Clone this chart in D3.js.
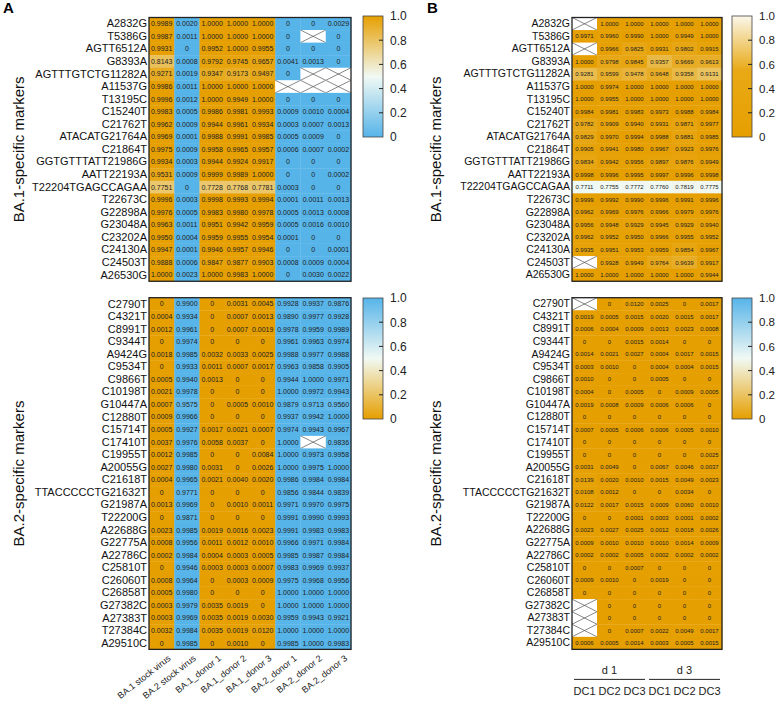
<!DOCTYPE html>
<html><head><meta charset="utf-8">
<script src="https://cdn.jsdelivr.net/npm/d3@7"></script>
<style>body{margin:0;background:#fff}svg{display:block}text{font-family:Arial,"Liberation Sans",sans-serif}</style>
</head><body><svg id="chart" width="777" height="703"></svg>
<script>
const ba1Markers = ["A2832G","T5386G","AGTT6512A","G8393A","AGTTTGTCTG11282A","A11537G","T13195C","C15240T","C21762T","ATACATG21764A","C21864T","GGTGTTTATT21986G","AATT22193A","T22204TGAGCCAGAA","T22673C","G22898A","G23048A","C23202A","C24130A","C24503T","A26530G"];
const ba2Markers = ["C2790T","C4321T","C8991T","C9344T","A9424G","C9534T","C9866T","C10198T","G10447A","C12880T","C15714T","C17410T","C19955T","A20055G","C21618T","TTACCCCCTG21632T","G21987A","T22200G","A22688G","G22775A","A22786C","C25810T","C26060T","C26858T","G27382C","A27383T","T27384C","A29510C"];
const colsA = ["BA.1 stock virus","BA.2 stock virus","BA.1_donor 1","BA.1_donor 2","BA.1_donor 3","BA.2_donor 1","BA.2_donor 2","BA.2_donor 3"];
const colsB = ["DC1","DC2","DC3","DC1","DC2","DC3"];
const daysB = ["d 1","d 3"];
const cbTicks = [0,0.2,0.4,0.6,0.8,1.0];

const aTop = [
[0.9989,0.0020,1.0000,1.0000,1.0000,0,0,0.0029],
[0.9987,0.0011,1.0000,1.0000,1.0000,0,null,0],
[0.9931,0,0.9952,1.0000,0.9955,0,0,0],
[0.8143,0.0008,0.9792,0.9745,0.9657,0.0041,0.0013,0],
[0.9271,0.0019,0.9347,0.9173,0.9497,0,null,null],
[0.9986,0.0011,1.0000,1.0000,1.0000,null,null,null],
[0.9996,0.0012,1.0000,0.9949,1.0000,0,0,0],
[0.9983,0.0005,0.9986,0.9981,0.9993,0.0009,0.0010,0.0004],
[0.9962,0.0009,0.9944,0.9961,0.9934,0.0003,0.0007,0.0013],
[0.9969,0.0001,0.9988,0.9991,0.9985,0.0005,0.0009,0],
[0.9975,0.0009,0.9958,0.9965,0.9957,0.0006,0.0007,0.0002],
[0.9934,0.0003,0.9944,0.9924,0.9917,0,0,0],
[0.9531,0.0009,0.9999,0.9989,1.0000,0,0,0.0002],
[0.7751,0,0.7728,0.7768,0.7781,0.0003,0,0],
[0.9996,0.0003,0.9998,0.9993,0.9994,0.0001,0.0011,0.0013],
[0.9976,0.0005,0.9983,0.9980,0.9978,0.0005,0.0013,0.0008],
[0.9963,0.0011,0.9951,0.9942,0.9959,0.0005,0.0016,0.0010],
[0.9950,0.0004,0.9959,0.9955,0.9954,0.0001,0,0],
[0.9947,0.0001,0.9946,0.9957,0.9946,0,0,0.0001],
[0.9888,0.0006,0.9847,0.9877,0.9903,0.0008,0.0009,0.0004],
[1.0000,0.0023,1.0000,0.9983,1.0000,0,0.0030,0.0022]];

const aBottom = [
[0,0.9900,0,0.0031,0.0045,0.9928,0.9937,0.9876],
[0.0004,0.9934,0,0.0007,0.0013,0.9890,0.9977,0.9928],
[0.0012,0.9961,0,0.0007,0.0019,0.9978,0.9959,0.9989],
[0,0.9974,0,0,0,0.9961,0.9963,0.9974],
[0.0018,0.9985,0.0032,0.0033,0.0025,0.9988,0.9977,0.9988],
[0,0.9933,0.0011,0.0007,0.0017,0.9963,0.9858,0.9905],
[0.0005,0.9940,0.0013,0,0,0.9944,1.0000,0.9971],
[0.0021,0.9978,0,0,0,1.0000,0.9972,0.9943],
[0.0007,0.9575,0,0.0005,0.0010,0.9879,0.9713,0.9560],
[0.0009,0.9966,0,0,0,0.9937,0.9942,1.0000],
[0.0005,0.9927,0.0017,0.0021,0.0007,0.9974,0.9943,0.9967],
[0.0037,0.9976,0.0058,0.0037,0,1.0000,null,0.9836],
[0.0012,0.9985,0,0,0.0084,1.0000,0.9973,0.9958],
[0.0027,0.9980,0.0031,0,0.0026,1.0000,0.9975,1.0000],
[0.0004,0.9965,0.0021,0.0040,0.0020,0.9986,0.9984,0.9984],
[0,0.9771,0,0,0,0.9856,0.9844,0.9839],
[0.0013,0.9969,0,0.0010,0.0011,0.9971,0.9970,0.9975],
[0,0.9871,0,0,0,0.9991,0.9990,0.9993],
[0.0023,0.9985,0.0019,0.0016,0.0023,0.9991,0.9983,0.9983],
[0.0008,0.9956,0.0011,0.0012,0.0010,0.9966,0.9971,0.9984],
[0.0002,0.9984,0.0004,0.0003,0.0005,0.9985,0.9987,0.9984],
[0,0.9946,0.0003,0.0003,0.0007,0.9983,0.9969,0.9937],
[0.0008,0.9964,0,0.0003,0.0009,0.9975,0.9968,0.9956],
[0.0005,0.9980,0,0,0,1.0000,1.0000,1.0000],
[0.0003,0.9979,0.0035,0.0019,0,1.0000,1.0000,1.0000],
[0.0003,0.9969,0.0035,0.0019,0.0030,0.9959,0.9943,0.9921],
[0.0032,0.9984,0.0035,0.0019,0.0120,1.0000,1.0000,1.0000],
[0,0.9985,0,0.0010,0,0.9985,1.0000,0.9983]];

const bTop = [
[null,1.0000,1.0000,1.0000,1.0000,1.0000],
[0.9971,0.9960,0.9990,1.0000,0.9949,1.0000],
[null,0.9966,0.9825,0.9931,0.9802,0.9915],
[1.0000,0.9798,0.9845,0.9357,0.9669,0.9613],
[0.9281,0.9599,0.9478,0.9648,0.9358,0.9131],
[1.0000,0.9974,1.0000,1.0000,1.0000,1.0000],
[1.0000,0.9955,1.0000,1.0000,1.0000,1.0000],
[0.9984,0.9981,0.9983,0.9973,0.9988,0.9984],
[0.9782,0.9909,0.9940,0.9931,0.9871,0.9977],
[0.9829,0.9970,0.9994,0.9988,0.9881,0.9985],
[0.9905,0.9941,0.9980,0.9967,0.9923,0.9976],
[0.9834,0.9942,0.9956,0.9897,0.9876,0.9949],
[0.9998,0.9996,0.9995,0.9997,0.9996,0.9998],
[0.7711,0.7755,0.7772,0.7760,0.7819,0.7775],
[0.9999,0.9992,0.9990,0.9996,0.9991,0.9996],
[0.9962,0.9969,0.9976,0.9966,0.9979,0.9976],
[0.9956,0.9948,0.9929,0.9945,0.9929,0.9940],
[0.9962,0.9952,0.9950,0.9966,0.9955,0.9952],
[0.9935,0.9951,0.9953,0.9959,0.9854,0.9967],
[null,0.9928,0.9949,0.9764,0.9639,0.9917],
[1.0000,1.0000,1.0000,1.0000,1.0000,0.9944]];

const bBottom = [
[null,0,0.0120,0.0025,0,0.0017],
[0.0019,0.0005,0.0015,0.0020,0.0015,0.0017],
[0.0006,0.0004,0.0009,0.0013,0.0023,0.0008],
[0,0,0.0015,0.0014,0,0],
[0.0014,0.0021,0.0027,0.0004,0.0017,0.0015],
[0.0003,0.0010,0,0.0004,0.0004,0.0015],
[0.0010,0,0,0.0005,0,0],
[0.0004,0,0.0005,0,0.0009,0.0005],
[0.0019,0.0008,0.0009,0.0006,0.0006,0],
[0,0,0,0,0,0],
[0.0007,0.0005,0.0006,0.0006,0.0005,0.0010],
[0,0,0,0,0,0],
[0,0,0,0,0,0.0025],
[0.0031,0.0049,0,0.0067,0.0046,0.0037],
[0.0139,0.0020,0.0010,0.0015,0.0049,0.0023],
[0.0108,0.0012,0,0,0.0034,0],
[0.0122,0.0017,0.0015,0.0009,0.0060,0.0010],
[0,0,0.0001,0.0003,0.0001,0.0002],
[0.0023,0.0027,0.0025,0.0012,0.0018,0.0026],
[0.0009,0.0010,0.0010,0.0010,0.0014,0.0009],
[0.0002,0.0002,0.0005,0.0002,0.0002,0.0002],
[0,0,0.0007,0,0,0],
[0.0009,0.0010,0,0.0019,0,0],
[0,0,0,0,0,0],
[null,0,0,0,0,0],
[null,0,0,0,0,0],
[null,0,0.0007,0.0022,0.0049,0.0017],
[0.0006,0.0005,0.0014,0.0003,0.0005,0.0015]];

const BLUE="#56B4E9", ORANGE="#E69F00", MID="#F1F9F4";
const FONT = "Arial, 'Liberation Sans', sans-serif";
const svg = d3.select("#chart");
const RH = 12.56, topY = 17.5, botY = 297.7;
const fmt = v => v === 0 ? "0" : v.toFixed(4);

function heat(rows, cols, data, x0, cw, y0, color, fs, lfs) {
  const g = svg.append("g");
  const x = d3.scaleBand().domain(d3.range(cols.length)).range([x0, x0 + cw*cols.length]);
  const y = d3.scaleBand().domain(d3.range(rows.length)).range([y0, y0 + RH*rows.length]);
  data.forEach((row, i) => row.forEach((v, j) => {
    const cx = x(j), cy = y(i), w = x.bandwidth(), h = y.bandwidth();
    if (v === null) {
      g.append("rect").attr("x",cx).attr("y",cy).attr("width",w).attr("height",h).attr("fill","#fff");
      g.append("path").attr("d",`M${cx},${cy}L${cx+w},${cy+h}M${cx+w},${cy}L${cx},${cy+h}`).attr("stroke","#555").attr("stroke-width",0.7).attr("fill","none");
    } else {
      g.append("rect").attr("x",cx).attr("y",cy).attr("width",w+0.3).attr("height",h+0.3).attr("fill",color(v));
      g.append("text").attr("x",cx+w/2).attr("y",cy+h/2).attr("dy","0.35em").attr("text-anchor","middle")
        .attr("font-size",fs).attr("fill","#222").text(fmt(v));
    }
  }));
  g.append("rect").attr("x",x0).attr("y",y0).attr("width",cw*cols.length).attr("height",RH*rows.length)
    .attr("fill","none").attr("stroke","#222").attr("stroke-width",1.3);
  const ay = d3.axisLeft(y).tickSize(0).tickPadding(2).tickFormat(i => rows[i]);
  const ag = svg.append("g").attr("transform",`translate(${x0},0)`).call(ay);
  ag.select(".domain").remove();
  ag.selectAll("text").attr("font-size",lfs).attr("fill","#111").attr("font-family",FONT);
  return {x, y};
}

function colorbar(x0, y0, w, h, stops, lfs) {
  const id = "grad" + Math.round(x0) + "_" + Math.round(y0);
  const grad = svg.append("defs").append("linearGradient").attr("id",id)
    .attr("x1",0).attr("y1",1).attr("x2",0).attr("y2",0);
  stops.forEach(s => grad.append("stop").attr("offset",s[0]).attr("stop-color",s[1]));
  svg.append("rect").attr("x",x0).attr("y",y0).attr("width",w).attr("height",h).attr("fill",`url(#${id})`)
    .attr("stroke","#444").attr("stroke-width",0.8);
  const s = d3.scaleLinear().domain([0,1]).range([y0+h, y0]);
  cbTicks.slice(1,5).forEach(t => svg.append("line").attr("x1",x0+w-4).attr("x2",x0+w).attr("y1",s(t)).attr("y2",s(t)).attr("stroke","#222").attr("stroke-width",1));
  const ax = d3.axisRight(s).tickValues(cbTicks).tickSize(0).tickPadding(7).tickFormat(d => d === 0 ? "0" : d.toFixed(1));
  const g = svg.append("g").attr("transform",`translate(${x0+w},0)`).call(ax);
  g.select(".domain").remove();
  g.selectAll("text").attr("font-size",lfs).attr("fill","#222").attr("font-family",FONT);
}

const cBA1 = d3.scaleLinear().domain([0,0.5,1]).range([BLUE,MID,ORANGE]).clamp(true);
const cBA2 = d3.scaleLinear().domain([0,0.5,1]).range([ORANGE,MID,BLUE]).clamp(true);
const cB1 = d3.scaleLinear().domain([0.55,0.775,1]).range([BLUE,MID,ORANGE]).clamp(true);

// Panel A
const AX0 = 149, ACW = 25.25;
heat(ba1Markers, colsA, aTop, AX0, ACW, topY, cBA1, 7, 11);
const a2 = heat(ba2Markers, colsA, aBottom, AX0, ACW, botY, cBA2, 7, 11);
colorbar(363, 16, 20, 121, [[0,BLUE],[0.5,MID],[1,ORANGE]], 12);
colorbar(363, 298, 20, 121, [[0,ORANGE],[0.5,MID],[1,BLUE]], 12);
const aBottomY = botY + RH*28;
const axA = d3.axisBottom(a2.x).tickSize(0).tickFormat(i => colsA[i]);
const gA = svg.append("g").attr("transform",`translate(0,${aBottomY})`).call(axA);
gA.select(".domain").remove();
gA.selectAll("text").attr("font-size",9).attr("fill","#222").attr("text-anchor","end")
  .attr("font-family",FONT).attr("x",0).attr("y",0).attr("dy","0.3em")
  .attr("transform","translate(8,8) rotate(-38)");

// Panel B
const BX0 = 572, BCW = 25;
heat(ba1Markers, colsB, bTop, BX0, BCW, topY, cB1, 6, 10.5);
const b2 = heat(ba2Markers, colsB, bBottom, BX0, BCW, botY, cBA2, 6, 10.5);
colorbar(732, 16, 20, 121, [[0,ORANGE],[0.55,"#E9A916"],[0.8,"#F2D48A"],[1,"#FBF7EA"]], 11.5);
colorbar(732, 298, 20, 121, [[0,ORANGE],[0.5,MID],[1,BLUE]], 11.5);
const bBottomY = botY + RH*28;
const axB = d3.axisBottom(b2.x).tickSize(0).tickPadding(0).tickFormat(i => colsB[i]);
const gB = svg.append("g").attr("transform",`translate(0,${bBottomY + 37})`).call(axB);
gB.select(".domain").remove();
gB.selectAll("text").attr("font-size",11).attr("fill","#222").attr("font-family",FONT).attr("dy","0.8em");
daysB.forEach((d, k) => {
  const xa = b2.x(k*3) + 2, xb = b2.x(k*3+2) + b2.x.bandwidth() - 2;
  svg.append("text").attr("x",(xa+xb)/2).attr("y",bBottomY+25).attr("text-anchor","middle")
    .attr("font-size",11).attr("fill","#222").text(d);
  svg.append("path").attr("d",`M${xa},${bBottomY+30}L${xb},${bBottomY+30}`).attr("stroke","#222").attr("stroke-width",1);
});

// titles
svg.append("text").attr("x",3).attr("y",13).attr("font-size",15).attr("font-weight","bold").text("A");
svg.append("text").attr("x",427).attr("y",13).attr("font-size",15).attr("font-weight","bold").text("B");
[[24,topY+RH*21/2,"BA.1-specific markers"],[24,botY+RH*28/2,"BA.2-specific markers"],
 [441,topY+RH*21/2,"BA.1-specific markers"],[441,botY+RH*28/2,"BA.2-specific markers"]].forEach(t => {
  svg.append("text").attr("transform",`translate(${t[0]},${t[1]}) rotate(-90)`).attr("text-anchor","middle")
    .attr("font-size",15).attr("fill","#111").text(t[2]);
});
</script></body></html>
